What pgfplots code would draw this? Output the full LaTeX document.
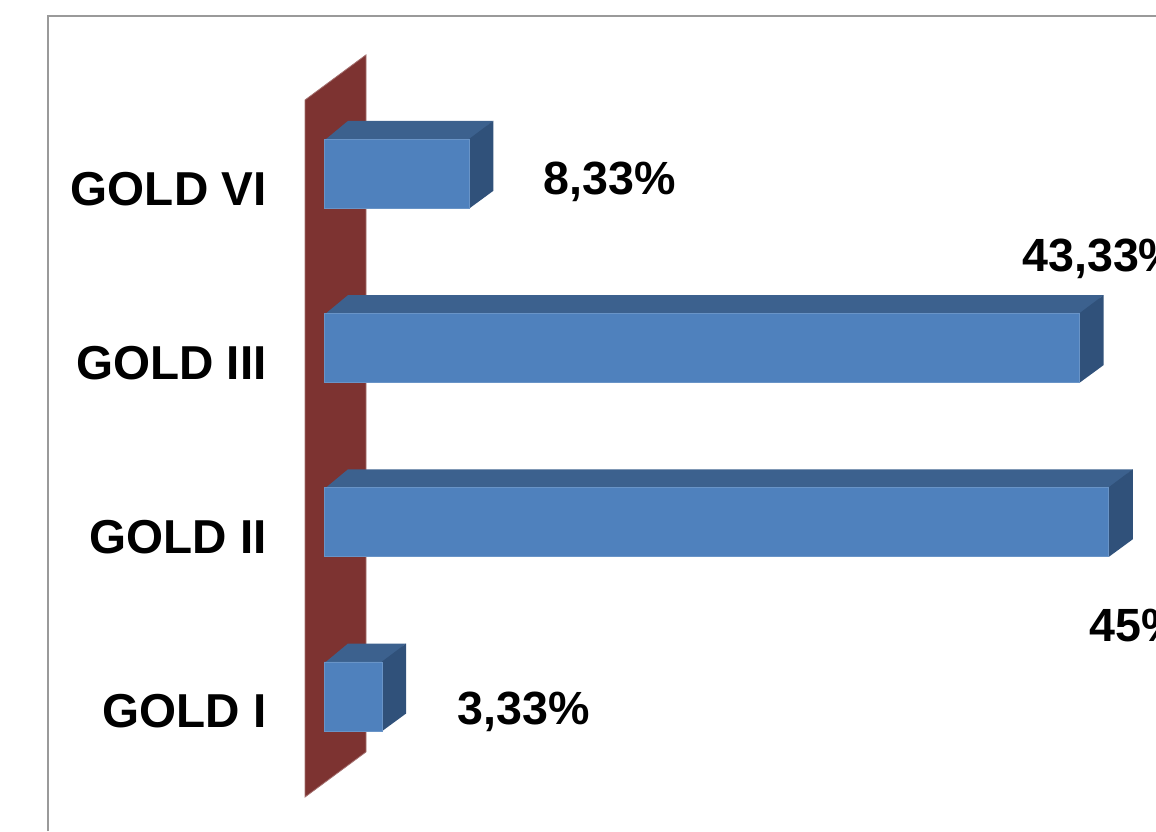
\documentclass[border=0pt]{standalone}
\usepackage{fontspec}
\setmainfont{Liberation Sans}
\usepackage{pgfplots}
\pgfplotsset{compat=1.18}
\definecolor{wall}{HTML}{7D3331}
\definecolor{front}{HTML}{4F81BD}
\definecolor{topface}{HTML}{3C618E}
\definecolor{sideface}{HTML}{30517A}
\definecolor{frameline}{HTML}{9A9A9A}
\newcommand{\labelfont}{\fontsize{23.8}{28}\selectfont\bfseries}
\newcommand{\valuefont}{\fontsize{23.3}{28}\selectfont\bfseries}
\begin{document}
\begin{tikzpicture}
\begin{axis}[
    scale only axis,
    width=578pt, height=415.5pt,
    at={(0,0)}, anchor=south west,
    xmin=-18.58, xmax=47.71,
    ymin=-0.772, ymax=3.998,
    axis line style={draw=none},
    major tick length=0pt,
    xtick=\empty,
    ytick={0,1,2,3},
    yticklabels={GOLD I,GOLD II,GOLD III,GOLD VI},
    yticklabel style={font=\labelfont, anchor=east, inner sep=0pt, xshift=133.5pt, yshift=-7.5pt},
    clip mode=individual,
]
% outer frame of the chart area
\addplot[draw=frameline, line width=1pt] coordinates {(-15.83,-0.772) (-15.83,3.906) (47.71,3.906)};
% side wall of the 3D chart
\addplot[fill=wall, draw=wall!70!white, line width=0.4pt] coordinates {(-1.09,3.424) (2.408,3.683) (2.408,-0.318) (-1.09,-0.577)} -- cycle;
% top faces of the bars, tucked slightly behind the front faces
\addplot[fill=topface, draw=none] coordinates {(0,0.19) (3.33,0.19) (4.706,0.3042) (1.376,0.3042)} -- cycle;
\addplot[fill=topface, draw=none] coordinates {(0,1.19) (45,1.19) (46.376,1.3042) (1.376,1.3042)} -- cycle;
\addplot[fill=topface, draw=none] coordinates {(0,2.19) (43.33,2.19) (44.706,2.3042) (1.376,2.3042)} -- cycle;
\addplot[fill=topface, draw=none] coordinates {(0,3.19) (8.33,3.19) (9.706,3.3042) (1.376,3.3042)} -- cycle;
% side faces of the bars
\addplot[fill=sideface, draw=none] coordinates {(3.33,0.2009) (4.706,0.3042) (4.706,-0.0976) (3.33,-0.1986)} -- cycle;
\addplot[fill=sideface, draw=none] coordinates {(45,1.2009) (46.376,1.3042) (46.376,0.9024) (45,0.8014)} -- cycle;
\addplot[fill=sideface, draw=none] coordinates {(43.33,2.2009) (44.706,2.3042) (44.706,1.9024) (43.33,1.8014)} -- cycle;
\addplot[fill=sideface, draw=none] coordinates {(8.33,3.2009) (9.706,3.3042) (9.706,2.9024) (8.33,2.8014)} -- cycle;
% front faces of the bars
\addplot[xbar, bar width=34.6pt, fill=front, draw=front!85!white, line width=0.4pt] coordinates {(3.33,0) (45,1) (43.33,2) (8.33,3)};
% value labels
\node[anchor=base west, inner sep=0pt, font=\valuefont] at (axis cs:12.56,2.884) {8,33\%};
\node[anchor=base west, inner sep=0pt, font=\valuefont] at (axis cs:40.02,2.44) {43,33\%};
\node[anchor=base west, inner sep=0pt, font=\valuefont] at (axis cs:43.86,0.313) {45\%};
\node[anchor=base west, inner sep=0pt, font=\valuefont] at (axis cs:7.63,-0.158) {3,33\%};
\end{axis}
% the page ends at the axis rectangle, so long labels run off its edge
\pgfresetboundingbox
\useasboundingbox (0,0) rectangle (578pt,415.5pt);
\end{tikzpicture}
\end{document}
